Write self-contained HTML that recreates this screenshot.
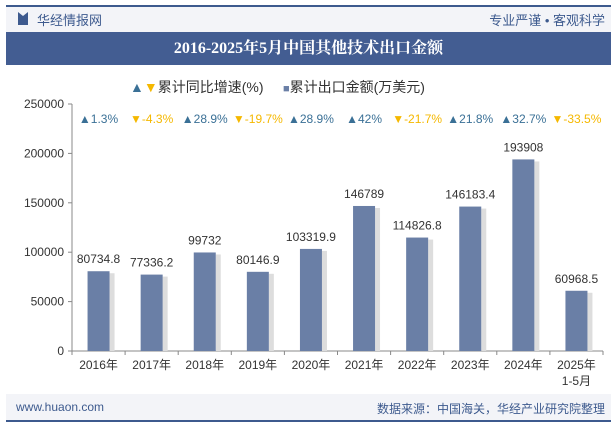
<!DOCTYPE html>
<html><head><meta charset="utf-8"><style>
body{margin:0;width:615px;height:427px;background:#fff;font-family:"Liberation Sans","Noto Sans CJK SC",sans-serif;overflow:hidden;position:relative}
.a{position:absolute}
</style></head><body>
<div class="a" style="left:6px;top:5px;height:2px;background:#3d5a8e;width:605px"></div>
<div class="a" style="left:6px;top:7px;width:605px;height:25px;background:#f3f4f8"></div>
<div class="a" style="left:18px;top:12px;width:0;border-left:5px solid #3d5a8e;border-right:5px solid #3d5a8e;border-top:4px solid transparent;height:9px"></div>
<div class="a" style="left:37px;top:10px;font-size:13px;color:#3d5a8e">华经情报网</div>
<div class="a" style="right:10px;top:10px;font-size:13px;color:#3d5a8e">专业严谨 • 客观科学</div>
<div class="a" style="left:6px;top:32px;width:605px;height:33px;background:#435d92;color:#fff;font-weight:bold;font-size:16px;line-height:33px;text-align:center;font-family:'Liberation Serif','Noto Serif CJK SC',serif">2016-2025年5月中国其他技术出口金额</div>
<div class="a" style="left:130px;top:77px;font-size:14px;color:#333;white-space:nowrap"><span style="color:#3a7096">▲</span><span style="color:#f5b800">▼</span>累计同比增速(%)&nbsp;&nbsp;&nbsp;&nbsp;&nbsp;<span style="color:#6a7fa6;font-size:11px">■</span>累计出口金额(万美元)</div>
<svg class="a" style="left:0;top:0" width="615" height="427" id="c"></svg>
<div class="a" style="left:6px;top:394px;width:605px;height:26px;background:#f3f4f8"></div>
<div class="a" style="left:16px;top:400px;font-size:12px;color:#3d5a8e">www.huaon.com</div>
<div class="a" style="right:10px;top:400px;font-size:12px;color:#3d5a8e">数据来源：中国海关，华经产业研究院整理</div>
<div class="a" style="left:6px;top:420px;width:605px;height:2px;background:#3d5a8e"></div>
<script>
const categories=["2016年","2017年","2018年","2019年","2020年","2021年","2022年","2023年","2024年","2025年"];
const values=[80734.8,77336.2,99732,80146.9,103319.9,146789,114826.8,146183.4,193908,60968.5];
const labels=["80734.8","77336.2","99732","80146.9","103319.9","146789","114826.8","146183.4","193908","60968.5"];
const growth=[1.3,-4.3,28.9,-19.7,28.9,42,-21.7,21.8,32.7,-33.5];
const ticks=[0,50000,100000,150000,200000,250000];
const svg=document.getElementById('c'),NS='http://www.w3.org/2000/svg';
const x0=72,x1=603,yb=351,yt=104,ymax=250000,bw=(x1-x0)/categories.length;
const y=v=>yb-(v/ymax)*(yb-yt);
const xc=i=>x0+bw*(i+0.5);
function mk(t,a,txt){const e=document.createElementNS(NS,t);for(const k in a)e.setAttribute(k,a[k]);if(txt!=null)e.textContent=txt;svg.appendChild(e);return e;}
let e=mk('line',{x1:x0,y1:yt,x2:x0,y2:yb,stroke:'#888'});

e=mk('line',{x1:x0,y1:yb,x2:x1,y2:yb,stroke:'#888'});

ticks.forEach(t=>{mk('line',{x1:x0-4,y1:y(t),x2:x0,y2:y(t),stroke:'#888'});
e=mk('text',{x:x0-8,y:y(t)+4,'text-anchor':'end','font-size':12,fill:'#333'},t);
});
for(let i=0;i<=categories.length;i++)mk('line',{x1:x0+bw*i,y1:yb,x2:x0+bw*i,y2:yb+4,stroke:'#888'});
const bwid=22;
values.forEach((v,i)=>{
mk('rect',{x:xc(i)+bwid/2,y:y(v)+2,width:5,height:yb-y(v)-2,fill:'#ddd'});
e=mk('rect',{x:xc(i)-bwid/2,y:y(v),width:bwid,height:yb-y(v),fill:'#6a7fa6'});

e=mk('text',{x:xc(i),y:y(v)-8,'text-anchor':'middle','font-size':12,fill:'#333'},labels[i]);

e=mk('text',{x:xc(i),y:yb+18,'text-anchor':'middle','font-size':12,fill:'#333'},categories[i]);

const g=growth[i],up=g>=0;
e=mk('text',{x:xc(i),y:123,'text-anchor':'middle','font-size':12,fill:up?'#3a7096':'#f5b800'},(up?'▲':'▼')+g+'%');

});
e=mk('text',{x:xc(9),y:yb+34,'text-anchor':'middle','font-size':12,fill:'#333'},'1-5月');

</script>
</body></html>
